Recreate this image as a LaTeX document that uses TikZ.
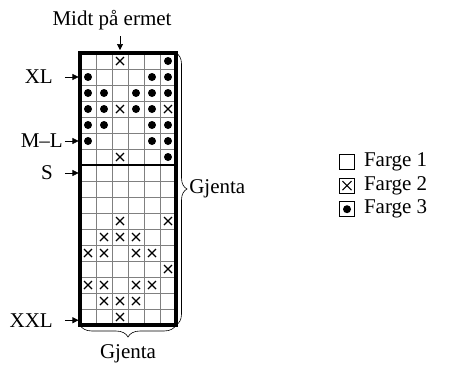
\documentclass[tikz,border=0pt]{standalone}
\usepackage{fontspec}
\setmainfont{Liberation Serif}
\usetikzlibrary{positioning,arrows.meta,decorations.pathreplacing,calc}

\tikzset{
  rute/.style={gray, line width=0.6pt},
  kant/.style={line width=3.2pt},
  pil/.style={-{Triangle[length=6pt,width=6pt]}, semithick},
  merke/.style={inner sep=0pt},
  kryss/.style={line width=1.2pt},
  boks/.style={draw, semithick, minimum size=15pt, inner sep=0pt},
  klamme/.style={decorate, decoration={brace, amplitude=#1}, semithick}
}

\begin{document}
\begin{tikzpicture}[x=16pt, y=-16pt, font=\fontsize{21}{23}\selectfont]
    \useasboundingbox (-5,-3.3125) rectangle (23.25,19.5);

    % rutenett
    \foreach \k in {1,...,5} \draw[rute] (\k,0) -- (\k,17);
    \foreach \r in {1,...,16} \draw[rute] (0,\r) -- (6,\r);

    % farge 3
    \foreach \c/\r in {6/1, 1/2,5/2,6/2, 1/3,2/3,4/3,5/3,6/3, 1/4,2/4,4/4,5/4,
                       1/5,2/5,5/5,6/5, 1/6,5/6,6/6, 6/7}
        \fill (\c-0.5,\r-0.5) circle (4pt);

    % farge 2
    \foreach \c/\r in {3/1, 3/4,6/4, 3/7, 3/11,6/11, 2/12,3/12,4/12, 1/13,2/13,4/13,5/13,
                       6/14, 1/15,2/15,4/15,5/15, 2/16,3/16,4/16, 3/17}
        \draw[kryss] (\c-0.75,\r-0.75) -- (\c-0.25,\r-0.25) (\c-0.75,\r-0.25) -- (\c-0.25,\r-0.75);

    \draw[line width=1.2pt] (0,7) -- (6,7);
    \draw[kant] (0,0) rectangle (6,17);

    % storrelser
    \coordinate (xlpt) at (0,1.5);
    \coordinate (mlpt) at (0,5.5);
    \coordinate (spt) at (0,7.5);
    \coordinate (xxlpt) at (0,16.7);
    \node[merke, left=27pt of xlpt] (xl) {XL};
    \node[merke, left=17pt of mlpt] (ml) {M--L};
    \node[merke, left=27pt of spt] (s) {S};
    \node[merke, left=27pt of xxlpt] (xxl) {XXL};
    \draw[pil, shorten <=12pt, shorten >=1.5pt] (xl) -- (xlpt);
    \draw[pil, shorten <=2pt, shorten >=1.5pt] (ml) -- (mlpt);
    \draw[pil, shorten <=12pt, shorten >=1.5pt] (s) -- (spt);
    \draw[pil, shorten <=12pt, shorten >=1.5pt] (xxl) -- (xxlpt);

    % midt
    \coordinate (topp) at (2.5,0);
    \node[merke, above=22.5pt of topp, xshift=-8pt] (midt) {Midt på ermet};
    \draw[pil, shorten <=5.5pt, shorten >=3pt] (midt.south -| topp) -- (topp);

    % gjentak
    \draw[klamme=11pt] (6,0) -- (6,17)
        node[merke, midway, anchor=west, xshift=13pt] (gjh) {Gjenta};
    \draw[klamme=12pt] (6,17) -- (0,17)
        node[merke, midway, anchor=north, yshift=-19pt] (gjb) {Gjenta};

    % forklaring
    \node[boks] (b1) at (16.6875,6.8125) {};
    \node[boks, below=8pt of b1] (b2) {};
    \node[boks, below=8pt of b2] (b3) {};
    \draw[kryss] ($(b2.center)+(-4.5pt,-4.5pt)$) -- ($(b2.center)+(4.5pt,4.5pt)$)
                 ($(b2.center)+(-4.5pt,4.5pt)$) -- ($(b2.center)+(4.5pt,-4.5pt)$);
    \fill (b3.center) circle (4pt);
    \node[merke, right=9pt of b1] (f1) {Farge 1};
    \node[merke, right=9pt of b2] (f2) {Farge 2};
    \node[merke, right=9pt of b3] (f3) {Farge 3};
\end{tikzpicture}
\end{document}
